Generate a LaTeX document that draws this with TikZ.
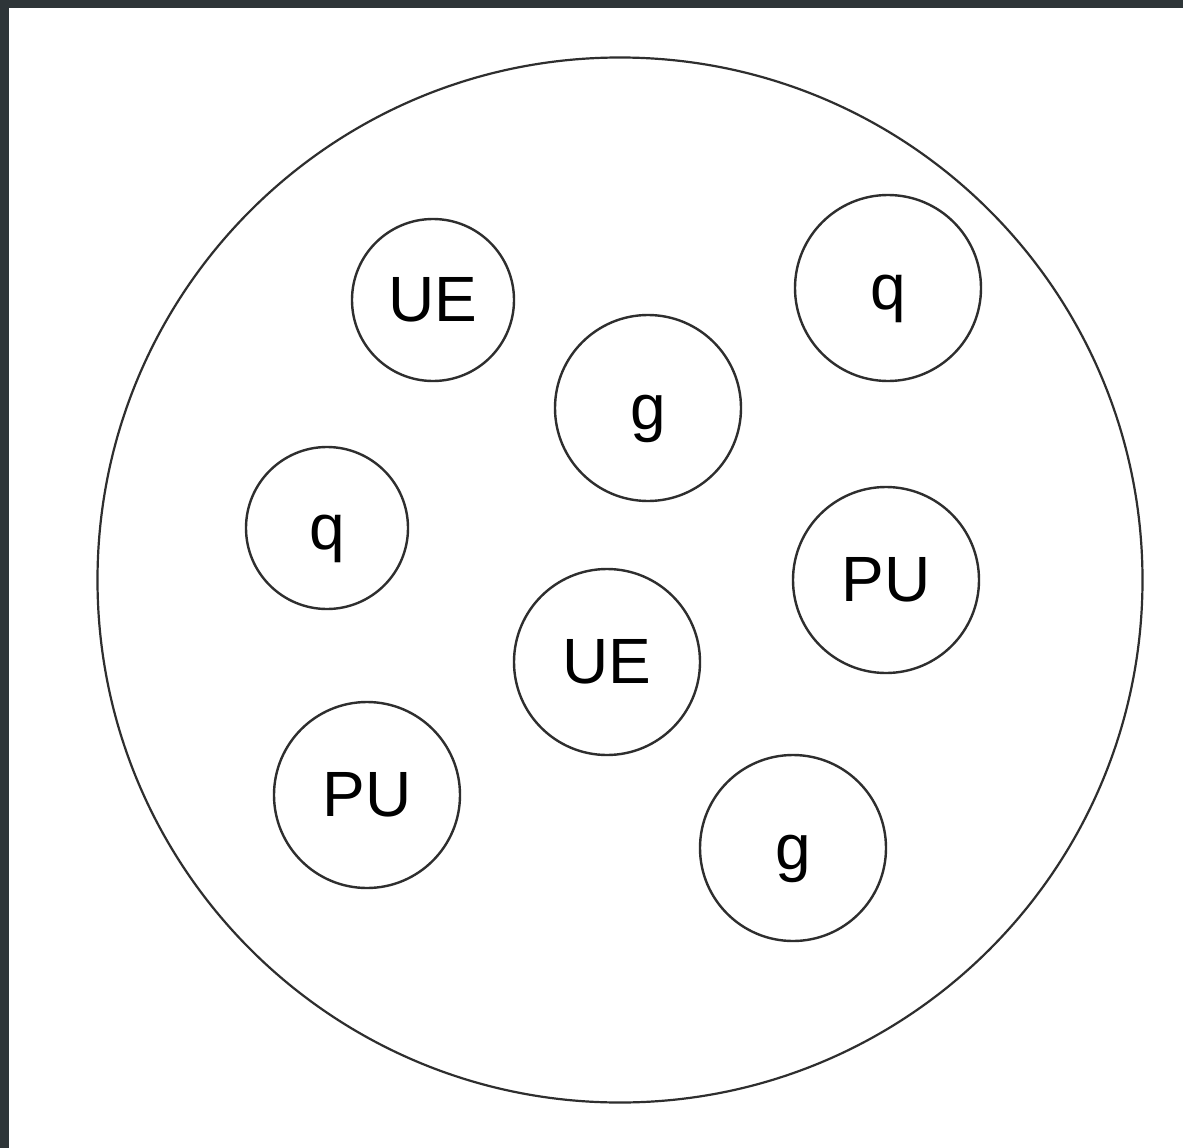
\documentclass[tikz,border=0pt]{standalone}
\usepackage{fontspec}
\setmainfont{Liberation Sans}
\definecolor{frame}{HTML}{2E3538}
\definecolor{ink}{HTML}{2E2E2E}
\begin{document}
\begin{tikzpicture}[x=1pt,y=-1pt,
  ent/.style={circle,draw=ink,line width=2.4pt,minimum size=#1,inner sep=0pt,
    text height=44pt,text depth=2pt,font=\fontsize{64}{64}\selectfont},
  ent/.default=186pt]
\fill[frame] (0,0) rectangle (1183,1148);
\fill[white] (9,8) rectangle (1183,1148);
\useasboundingbox (0,0) rectangle (1183,1148);
\node[circle,draw=ink,line width=2.2pt,minimum size=1045pt,inner sep=0pt] (world) at (620,580) {};
\node[ent=162pt] (ue1) at (433,300) {UE};
\node[ent] (g1) at (648,408) {g};
\node[ent] (q1) at (888,288) {q};
\node[ent=162pt] (q2) at (327,528) {q};
\node[ent] (pu1) at (886,580) {PU};
\node[ent] (ue2) at (607,662) {UE};
\node[ent] (pu2) at (367,795) {PU};
\node[ent] (g2) at (793,848) {g};
\end{tikzpicture}
\end{document}
